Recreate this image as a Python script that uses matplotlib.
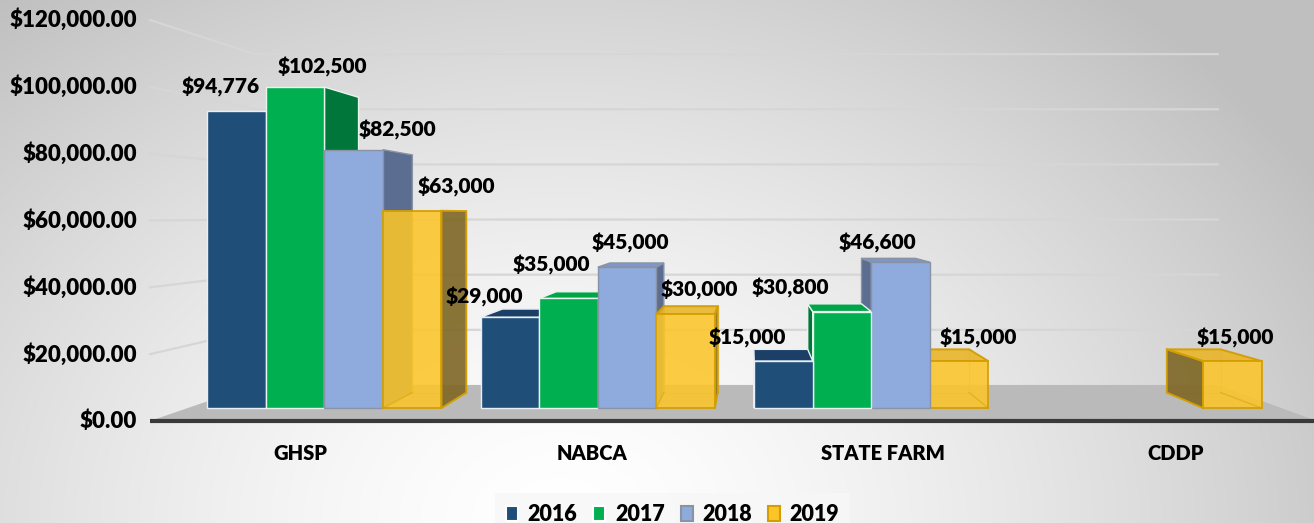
import numpy as np
import matplotlib.pyplot as plt
from matplotlib.patches import Polygon, Patch

plt.rcParams['font.family'] = ['Lato', 'DejaVu Sans']

categories = ['GHSP', 'NABCA', 'STATE FARM', 'CDDP']
years = ['2016', '2017', '2018', '2019']
v2016 = [94776, 29000, 15000, 0]
v2017 = [102500, 35000, 30800, 0]
v2018 = [82500, 45000, 46600, 0]
v2019 = [63000, 30000, 15000, 15000]
yticks = [0, 20000, 40000, 60000, 80000, 100000, 120000]

series = [v2016, v2017, v2018, v2019]

# styling: front, top, side, edge colours per series
front_c = ['#1F4E79', '#00B050', '#8FAADC', '#FBC52A']
top_c = ['#1B3F66', '#00A54A', '#7C97C8', '#E9B52A']
side_c = ['#173A5E', '#00763A', '#5B6D90', '#7E6624']
edge_c = ['#E8EEF5', '#E8F5EC', '#8A93A6', '#D49E00']

# label nudges in pixels from the front-top centre of each bar
nudges = [
    [(-16, 24), (-26, 20), (-36, 23), (0, 0)],
    [(27, 20), (-17, 33), (-52, 24), (0, 0)],
    [(44, 20), (3, 24), (-23, 19), (0, 0)],
    [(44, 24), (14, 24), (19, 23), (3, 23)],
]

# front plane mapping (pixels) and fake perspective
W, H = 1314, 523
x0_px, slot_px = 150, 291.75
base_px = 421
v_px = 401 / 120000
s_wall, s_f, s_b = 0.825, 0.937, 0.862
bar_w = 0.214
wt = 'heavy'

vpx = (750 - x0_px) / slot_px
vpv = (base_px - 215) / v_px


def proj(x, v, s):
    return (vpx + (x - vpx) * s, vpv + (v - vpv) * s)


fig = plt.figure(figsize=(W / 100, H / 100), dpi=100)

# background gradient
ax_bg = fig.add_axes([0, 0, 1, 1])
yy, xx = np.mgrid[0:H, 0:W]
d = np.sqrt((xx - 560) ** 2 + ((yy - 520) * 1.3) ** 2) / 880
g = 1 - 0.25 * np.clip(d, 0, 1) ** 1.5
ax_bg.imshow(np.dstack([g, g, g]), aspect='auto', extent=[0, 1, 0, 1])
ax_bg.axis('off')

ax = fig.add_axes([0, 0, 1, 1])
ax.patch.set_alpha(0)
ax.set_xlim(-x0_px / slot_px, (W - x0_px) / slot_px)
ax.set_ylim(-(H - base_px) / v_px, base_px / v_px)
ax.axis('off')

n = len(categories)

# floor
floor = [proj(0, 0, 1), proj(n, 0, 1), proj(n, 0, s_wall), proj(0, 0, s_wall)]
ax.add_patch(Polygon(floor, closed=True, facecolor='#BABABA', edgecolor='none', zorder=1))
ax.plot([0, n], [0, 0], color='#3A3A3A', lw=3, zorder=1.5, solid_capstyle='butt')

# gridlines on side and back walls
for t in yticks[1:]:
    p1, p2, p3 = proj(0, t, 1), proj(0, t, s_wall), proj(n, t, s_wall)
    ax.plot([p1[0], p2[0], p3[0]], [p1[1], p2[1], p3[1]], color='#D6D6D6', lw=1.6, zorder=1)

# bars, painted farthest from the vanishing point first
bars = []
for j, vals in enumerate(series):
    for i, v in enumerate(vals):
        if v <= 0:
            continue
        xc = i + 0.5 + (j - 1.5) * bar_w
        bars.append((abs(xc - vpx), i, j, xc - bar_w / 2, xc + bar_w / 2, v))
bars.sort(key=lambda b: -b[0])

for _, i, j, xa, xb, v in bars:
    F = [proj(xa, 0, s_f), proj(xb, 0, s_f), proj(xb, v, s_f), proj(xa, v, s_f)]
    B = [proj(xa, 0, s_b), proj(xb, 0, s_b), proj(xb, v, s_b), proj(xa, v, s_b)]
    top = [F[3], F[2], B[2], B[3]]
    side = None
    if xb <= vpx:
        side = [F[1], B[1], B[2], F[2]]
    elif xa >= vpx:
        side = [F[0], B[0], B[3], F[3]]
    clear = j == 3
    alpha = 0.9 if clear else 1
    lw = 1.4 if clear else 1.0
    if clear:
        ax.add_patch(Polygon(B, closed=True, facecolor='none', edgecolor=edge_c[j],
                             lw=1.0, alpha=0.6, zorder=2))
    if side is not None:
        ax.add_patch(Polygon(side, closed=True, facecolor=side_c[j], edgecolor=edge_c[j],
                             lw=lw, alpha=alpha, zorder=2))
    if v < vpv:
        ax.add_patch(Polygon(top, closed=True, facecolor=top_c[j], edgecolor=edge_c[j],
                             lw=lw, alpha=alpha, zorder=2))
    ax.add_patch(Polygon(F, closed=True, facecolor=front_c[j], edgecolor=edge_c[j],
                         lw=lw, alpha=0.88 if clear else 1, zorder=2))
    if clear:
        for k in range(4):
            ax.plot([F[k][0], B[k][0]], [F[k][1], B[k][1]], color=edge_c[j], lw=1.0,
                    alpha=0.45, zorder=2)
    dx, dy = nudges[j][i]
    ax.annotate(f'${v:,.0f}', xy=proj((xa + xb) / 2, v, s_f), xytext=(dx, dy),
                textcoords='offset pixels', ha='center', va='center',
                fontsize=15, fontweight=wt, color='black', zorder=5)

# axis tick labels
for t in yticks:
    ax.annotate(f'${t:,.2f}', xy=(0, t), xytext=(-13, 0), textcoords='offset pixels',
                ha='right', va='center', fontsize=16, fontweight=wt)

# category labels
for i, c in enumerate(categories):
    ax.annotate(c, xy=(i + 0.5, 0), xytext=(4, -33), textcoords='offset pixels',
                ha='center', va='center', fontsize=14.5, fontweight=wt)

handles = [Patch(facecolor=front_c[j], edgecolor=edge_c[j] if j >= 2 else 'white', lw=1.5)
           for j in range(4)]
leg = fig.legend(handles, years, loc='lower center', bbox_to_anchor=(0.512, -0.045), ncol=4,
                 frameon=True, fancybox=False, facecolor='#F7F7F7', edgecolor='none',
                 handlelength=0.55, handleheight=0.7, handletextpad=0.45, columnspacing=0.75,
                 prop=dict(weight=wt, size=15.5), borderpad=0.5)

fig.savefig('out.png', dpi=100)
